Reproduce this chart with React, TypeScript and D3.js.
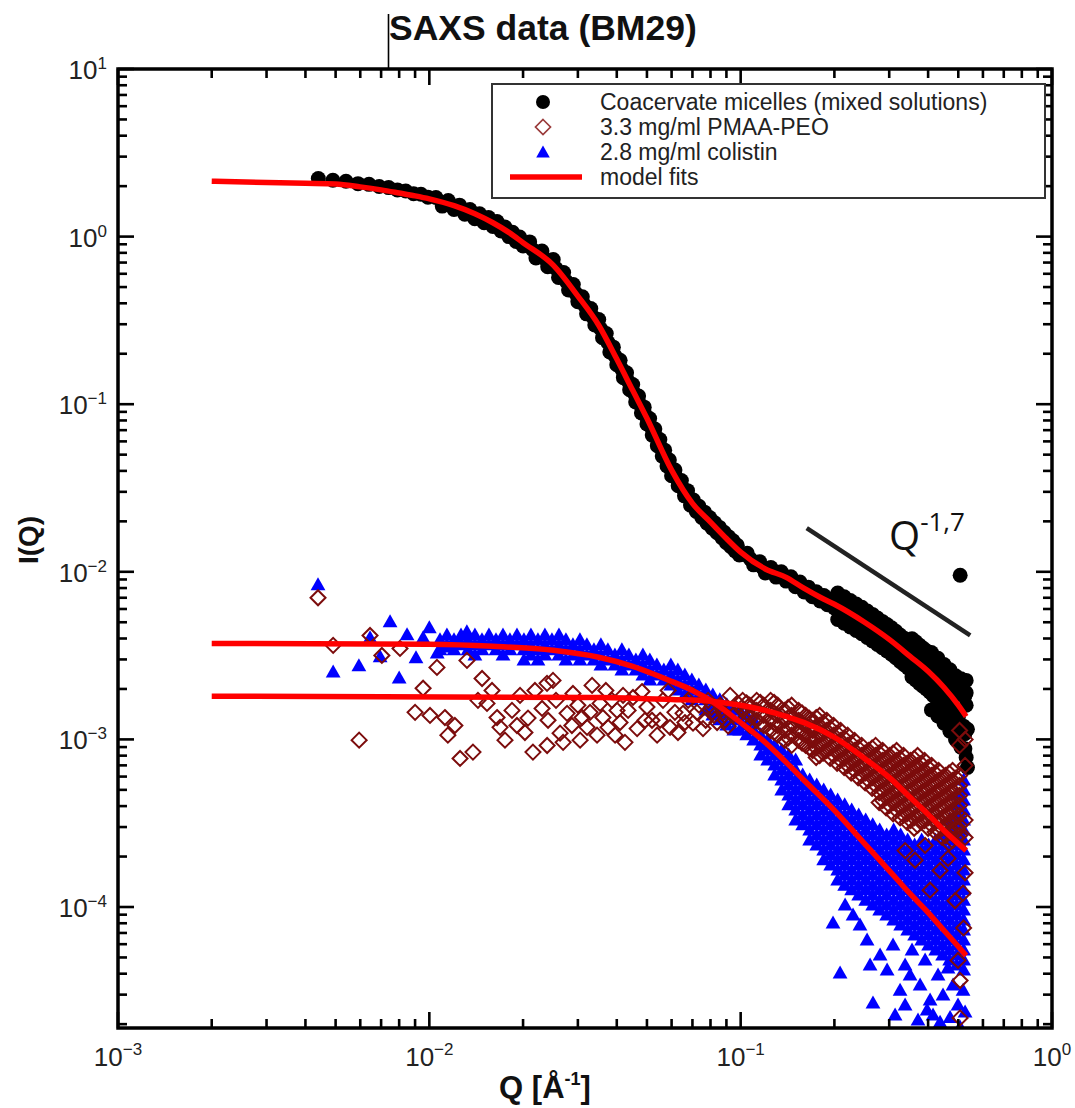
import React from "react";
import * as d3 from "d3";

// ---------------- DATA ----------------
const seriesNames = [
  "Coacervate micelles (mixed solutions)",
  "3.3 mg/ml PMAA-PEO",
  "2.8 mg/ml colistin",
  "model fits",
];

const xMajorTicks = [1e-3, 1e-2, 1e-1, 1e0];
const xMajorExp = ["−3", "−2", "−1", "0"];
const yMajorTicks = [1e1, 1e0, 1e-1, 1e-2, 1e-3, 1e-4];
const yMajorExp = ["1", "0", "−1", "−2", "−3", "−4"];
const minorMultipliers = [2, 3, 4, 5, 6, 7, 8, 9];
const xMinorDecades = [1e-3, 1e-2, 1e-1];
const yMinorDecades = [1e-5, 1e-4, 1e-3, 1e-2, 1e-1, 1e0];

// Coacervate micelles [Q, I]
const coacervate: [number, number][] = [
  [0.0044,2.22],[0.0049,2.17],[0.0054,2.14],[0.0059,2.07],[0.0064,2.05],[0.0069,1.99],[0.0074,1.96],[0.0079,1.9],[0.0084,1.87],[0.0089,1.8],[0.0094,1.79],[0.0099,1.72],
  [0.0105,1.71],[0.011,1.52],[0.0115,1.64],[0.012,1.45],[0.0125,1.54],[0.013,1.36],[0.0135,1.45],[0.014,1.28],[0.0145,1.37],[0.015,1.21],[0.0155,1.3],[0.016,1.15],[0.0165,1.23],[0.017,1.08],[0.0175,1.14],[0.018,1.0],[0.0185,1.06],[0.019,0.935],[0.0195,0.995],[0.02,0.878],
  [0.021,0.93],[0.022,0.745],[0.023,0.82],[0.024,0.662],[0.025,0.73],[0.026,0.571],[0.027,0.611],[0.028,0.48],[0.029,0.517],[0.03,0.409],[0.031,0.438],[0.032,0.346],[0.033,0.372],[0.034,0.297],[0.035,0.32],[0.036,0.249],[0.037,0.264],[0.038,0.205],[0.039,0.219],[0.04,0.172],[0.041,0.183],[0.042,0.144],[0.043,0.154],[0.044,0.122],[0.045,0.131],[0.046,0.103],[0.047,0.112],[0.048,0.0887],[0.049,0.096],[0.05,0.0762],[0.051,0.0821],[0.052,0.0654],[0.053,0.0711],[0.054,0.0566],[0.055,0.0615],[0.056,0.049],[0.057,0.0532],[0.058,0.0428],[0.059,0.0465],[0.06,0.0374],
  [0.0205,0.89],[0.0215,0.834],[0.0225,0.783],[0.0235,0.737],[0.0245,0.696],[0.0255,0.646],[0.0265,0.591],[0.0275,0.542],[0.0285,0.499],[0.0295,0.46],[0.0305,0.424],[0.0315,0.39],[0.0325,0.359],[0.0335,0.332],[0.0345,0.308],[0.0355,0.282],[0.0365,0.256],[0.0375,0.233],[0.0385,0.212],[0.0395,0.194],[0.0405,0.177],[0.0415,0.162],[0.0425,0.149],[0.0435,0.137],[0.0445,0.126],[0.0455,0.116],[0.0465,0.107],[0.0475,0.0996],[0.0485,0.0923],[0.0495,0.0856],[0.0505,0.0791],[0.0515,0.0733],[0.0525,0.0682],[0.0535,0.0635],[0.0545,0.059],[0.0555,0.0549],[0.0565,0.0511],[0.0575,0.0478],[0.0585,0.0447],[0.0595,0.0417],
  [0.0615,0.0405],[0.063,0.0326],[0.0645,0.035],[0.066,0.0284],[0.0675,0.0305],[0.069,0.025],[0.0705,0.0268],[0.072,0.0229],[0.0735,0.0246],[0.075,0.0211],[0.0765,0.0227],[0.078,0.0195],[0.0795,0.0211],[0.081,0.0182],[0.0825,0.0196],[0.084,0.0171],[0.0855,0.0184],[0.087,0.016],[0.0885,0.0172],[0.09,0.0149],[0.0915,0.0162],[0.093,0.0141],[0.0945,0.0153],[0.096,0.0133],[0.0975,0.0144],[0.099,0.0126],
  [0.06075,0.0389],[0.06225,0.0362],[0.06375,0.0337],[0.06525,0.0314],[0.06675,0.0295],[0.06825,0.0276],[0.06975,0.026],[0.07125,0.0248],[0.07275,0.0238],[0.07425,0.0228],[0.07575,0.022],[0.07725,0.0211],[0.07875,0.0203],
  [0.105,0.0129],[0.11,0.011],[0.115,0.0115],[0.12,0.00985],[0.125,0.0106],[0.13,0.0093],[0.135,0.01],[0.14,0.0088],[0.145,0.00935],[0.15,0.00815],[0.155,0.00868],[0.16,0.00757],[0.165,0.0081],[0.17,0.00711],[0.175,0.0076],[0.18,0.0067],[0.185,0.00722],[0.19,0.00637],[0.195,0.00688],[0.2,0.00608],
  [0.1025,0.0127],[0.1075,0.0119],[0.1125,0.0113],[0.1175,0.0106],[0.1225,0.0102],[0.1275,0.0099],[0.1325,0.0096],[0.1375,0.0094],[0.1425,0.0091],[0.1475,0.0087],[0.1525,0.0084],[0.1575,0.0081],[0.1625,0.0078],[0.1675,0.0076],[0.1725,0.0074],[0.1775,0.0071],[0.1825,0.007],[0.1875,0.0068],[0.1925,0.0066],[0.1975,0.0065],
  [0.21,0.00615],[0.22,0.0057],[0.23,0.00555],[0.24,0.00515],[0.25,0.0051],[0.26,0.00465],[0.27,0.00462],[0.28,0.0042],[0.29,0.00425],[0.3,0.0038],[0.31,0.00392],[0.32,0.00345],[0.33,0.00358],[0.34,0.00312],[0.35,0.0033],[0.36,0.00282],[0.37,0.00305],[0.38,0.00255],[0.39,0.00285],[0.4,0.00235],[0.41,0.00268],[0.42,0.0021],[0.43,0.00248],[0.44,0.00188],[0.45,0.00228],[0.46,0.0017],[0.47,0.00212],[0.48,0.00152],[0.49,0.00195],[0.5,0.00135],[0.51,0.00185],[0.52,0.0012],[0.53,0.0016],
  [0.205,0.00748],[0.215,0.0071],[0.225,0.00674],[0.235,0.00643],[0.245,0.00614],[0.255,0.00584],[0.265,0.00557],[0.275,0.0053],[0.285,0.00506],[0.295,0.00485],[0.305,0.00463],[0.315,0.00442],[0.325,0.0042],[0.335,0.00402],[0.345,0.00384],[0.355,0.00398],[0.365,0.00382],[0.375,0.00365],[0.385,0.00351],[0.395,0.00338],[0.405,0.00324],[0.415,0.00309],[0.425,0.00296],[0.435,0.00283],[0.445,0.0027],[0.455,0.00259],[0.465,0.00247],[0.475,0.00234],[0.485,0.00222],[0.495,0.00212],[0.505,0.00202],[0.515,0.00191],[0.525,0.00182],
  [0.205,0.00519],[0.215,0.00493],[0.225,0.00468],[0.235,0.00447],[0.245,0.00427],[0.255,0.00406],[0.265,0.00387],[0.275,0.00368],[0.285,0.00352],[0.295,0.00337],[0.305,0.00322],[0.315,0.00307],[0.325,0.00292],[0.335,0.00279],[0.345,0.00267],[0.355,0.00236],[0.365,0.00226],[0.375,0.00216],[0.385,0.00208],[0.395,0.002],[0.405,0.00192],[0.415,0.00183],[0.425,0.00176],[0.435,0.00168],[0.445,0.0016],[0.455,0.00153],[0.465,0.00146],[0.475,0.00139],[0.485,0.00132],[0.495,0.00126],[0.505,0.00119],[0.515,0.00113],[0.525,0.00108],
  [0.41,0.0033],[0.41,0.0015],[0.43,0.00305],[0.43,0.00138],[0.45,0.0028],[0.45,0.00125],[0.47,0.0026],[0.47,0.00112],[0.49,0.0024],[0.49,0.001],[0.51,0.0023],[0.51,0.0009],[0.53,0.00225],[0.53,0.00078],
  [0.525,0.00088],[0.535,0.00115],[0.535,0.00068],[0.53,0.0019],
  [0.507,0.00953],
];

// PMAA-PEO scattered points [Q, I]
const pmaaScatter: [number, number][] = [
  [0.00439,7.0e-3],[0.00491,3.64e-3],[0.00595,9.9e-4],[0.00645,4.17e-3],[0.00704,3.17e-3],[0.00805,3.49e-3],[0.009,1.45e-3],[0.00955,2.02e-3],[0.01005,1.39e-3],[0.01058,2.69e-3],[0.01122,1.35e-3],[0.01147,1.06e-3],[0.01208,1.21e-3],[0.01255,7.7e-4],[0.01321,2.96e-3],[0.01381,8.4e-4],[0.01477,2.31e-3],[0.01532,1.64e-3],[0.0165,1.35e-3],[0.01687,1.18e-3],[0.01843,1.49e-3],[0.01912,1.21e-3],[0.02028,1.1e-3],[0.02152,8.4e-4],[0.02184,1.96e-3],[0.02302,1.53e-3],[0.02388,2.16e-3],[0.02496,2.25e-3],[0.0263,1.09e-3],[0.0277,1.43e-3],[0.02893,1.88e-3],[0.03094,1.35e-3],[0.03211,1.18e-3],[0.03332,2.1e-3],[0.03535,1.64e-3],[0.0375,1.18e-3],[0.04008,1.49e-3],[0.0425,9.6e-4],[0.0451,1.78e-3],[0.05,1.56e-3],[0.05509,1.3e-3],[0.05932,1.18e-3],[0.0653,1.43e-3],[0.0703,1.25e-3],
  [0.01433,1.71e-3],[0.0159,1.96e-3],[0.0175,9.9e-4],[0.01956,1.83e-3],[0.02075,1.34e-3],[0.02406,1.3e-3],[0.02552,1.71e-3],[0.0269,9.6e-4],[0.0287,1.21e-3],[0.03,1.6e-3],[0.03283,1.45e-3],[0.03457,1.06e-3],[0.0361,1.35e-3],[0.0386,1.71e-3],[0.04098,1.26e-3],[0.0435,1.49e-3],[0.0465,1.16e-3],[0.0482,1.93e-3],[0.0519,1.3e-3],[0.0539,1.06e-3],[0.0563,1.71e-3],[0.0615,1.45e-3],[0.0629,1.1e-3],[0.0678,1.71e-3],[0.0724,1.45e-3],[0.0757,1.16e-3],[0.0786,1.71e-3],[0.0821,1.39e-3],[0.0859,1.6e-3],[0.0891,1.3e-3],[0.0925,1.83e-3],[0.0966,1.45e-3],
  [0.0369,1.96e-3],[0.0395,1.06e-3],[0.0419,1.83e-3],[0.0493,1.3e-3],[0.0585,1.96e-3],[0.0662,1.26e-3],[0.0703,1.83e-3],[0.084,1.26e-3],[0.0945,1.39e-3],[0.0305,9.9e-4],[0.0239,9.2e-4],
  [0.0735,1.6e-3],[0.0772,1.3e-3],[0.0805,1.55e-3],[0.0878,1.45e-3],[0.0912,1.2e-3],[0.0985,1.62e-3],
];

// PMAA-PEO dense high-Q region: [Q, I values]
const pmaaBand: [number, number[]][] = [
  [0.1015,[1.71e-3,1.49e-3]],
  [0.1069,[1.6e-3,1.39e-3,1.21e-3]],
  [0.1126,[1.71e-3,1.49e-3,1.3e-3]],
  [0.1186,[1.6e-3,1.39e-3,1.21e-3]],
  [0.1248,[1.71e-3,1.49e-3,1.3e-3,1.13e-3]],
  [0.1315,[1.6e-3,1.39e-3,1.21e-3,1.06e-3]],
  [0.1385,[1.49e-3,1.3e-3,1.13e-3,9.86e-4]],
  [0.1458,[1.6e-3,1.39e-3,1.21e-3,1.06e-3,9.21e-4]],
  [0.1535,[1.49e-3,1.3e-3,1.13e-3,9.86e-4]],
  [0.1617,[1.39e-3,1.21e-3,1.06e-3,9.21e-4]],
  [0.1703,[1.3e-3,1.13e-3,9.86e-4,8.59e-4]],
  [0.1794,[1.39e-3,1.21e-3,1.06e-3,9.21e-4,8.02e-4]],
  [0.1889,[1.3e-3,1.13e-3,9.86e-4,8.59e-4]],
  [0.1989,[1.21e-3,1.06e-3,9.21e-4,8.02e-4]],
  [0.2095,[1.13e-3,9.86e-4,8.59e-4,7.49e-4]],
  [0.2206,[1.06e-3,9.21e-4,8.02e-4,6.99e-4]],
  [0.2323,[9.86e-4,8.59e-4,7.49e-4,6.53e-4]],
  [0.2447,[9.21e-4,8.02e-4,6.99e-4,6.1e-4]],
  [0.2577,[8.59e-4,7.49e-4,6.53e-4,5.69e-4]],
  [0.2713,[9.21e-4,8.02e-4,6.99e-4,6.1e-4,5.31e-4]],
  [0.2858,[8.59e-4,7.49e-4,6.53e-4,5.69e-4,4.96e-4,4.32e-4]],
  [0.3009,[8.02e-4,6.99e-4,6.1e-4,5.31e-4,4.63e-4,4.04e-4]],
  [0.3169,[8.59e-4,7.49e-4,6.53e-4,5.69e-4,4.96e-4,4.32e-4,3.77e-4]],
  [0.3337,[8.02e-4,6.99e-4,6.1e-4,5.31e-4,4.63e-4,4.04e-4,3.52e-4]],
  [0.3515,[7.49e-4,6.53e-4,5.69e-4,4.96e-4,4.32e-4,3.77e-4,3.28e-4]],
  [0.3701,[8.02e-4,6.99e-4,6.1e-4,5.31e-4,4.63e-4,4.04e-4,3.52e-4,3.07e-4]],
  [0.3898,[7.49e-4,6.53e-4,5.69e-4,4.96e-4,4.32e-4,3.77e-4,3.28e-4]],
  [0.4105,[6.99e-4,6.1e-4,5.31e-4,4.63e-4,4.04e-4,3.52e-4,3.07e-4]],
  [0.4323,[6.53e-4,5.69e-4,4.96e-4,4.32e-4,3.77e-4,3.28e-4,2.86e-4]],
  [0.4552,[6.1e-4,5.31e-4,4.63e-4,4.04e-4,3.52e-4,3.07e-4,2.67e-4]],
  [0.4794,[6.53e-4,5.69e-4,4.96e-4,4.32e-4,3.77e-4,3.28e-4,2.86e-4,2.49e-4]],
  [0.5049,[1.13e-3,9.21e-4,6.1e-4,5.31e-4,4.63e-4,4.04e-4,3.52e-4,3.07e-4,2.67e-4]],
  [0.5258,[1.0e-3,7.0e-4,3.3e-4,2.6e-4]],
  [0.1045,[1.65e-3,1.44e-3,1.27e-3]],
  [0.1157,[1.66e-3,1.44e-3,1.25e-3]],
  [0.1281,[1.66e-3,1.44e-3,1.25e-3,1.1e-3]],
  [0.1421,[1.55e-3,1.35e-3,1.17e-3,1.02e-3]],
  [0.1575,[1.44e-3,1.25e-3,1.09e-3,9.5e-4]],
  [0.166,[1.34e-3,1.17e-3,1.02e-3,8.9e-4]],
  [0.1748,[1.35e-3,1.17e-3,1.02e-3,8.9e-4,7.8e-4]],
  [0.1841,[1.26e-3,1.09e-3,9.5e-4,8.3e-4]],
  [0.1938,[1.17e-3,1.02e-3,8.9e-4,7.7e-4]],
  [0.2041,[1.09e-3,9.5e-4,8.3e-4,7.2e-4]],
  [0.215,[1.02e-3,8.9e-4,7.7e-4,6.8e-4]],
  [0.2264,[9.5e-4,8.3e-4,7.2e-4,6.3e-4]],
  [0.2384,[8.9e-4,7.7e-4,6.8e-4,5.9e-4]],
  [0.2511,[8.3e-4,7.2e-4,6.3e-4,5.5e-4]],
  [0.2644,[8.9e-4,7.7e-4,6.8e-4,5.9e-4,5.1e-4]],
  [0.2785,[8.3e-4,7.2e-4,6.3e-4,5.5e-4,4.8e-4,4.2e-4]],
  [0.2932,[7.7e-4,6.8e-4,5.9e-4,5.1e-4,4.5e-4,3.9e-4]],
  [0.3088,[8.3e-4,7.2e-4,6.3e-4,5.5e-4,4.8e-4,4.2e-4,3.6e-4]],
  [0.3252,[7.7e-4,6.8e-4,5.9e-4,5.1e-4,4.5e-4,3.9e-4,3.4e-4]],
  [0.3425,[7.2e-4,6.3e-4,5.5e-4,4.8e-4,4.2e-4,3.6e-4,3.2e-4]],
  [0.3607,[7.7e-4,6.8e-4,5.9e-4,5.1e-4,4.5e-4,3.9e-4,3.4e-4,2.95e-4]],
  [0.3799,[7.2e-4,6.3e-4,5.5e-4,4.8e-4,4.2e-4,3.6e-4,3.2e-4]],
  [0.4,[6.8e-4,5.9e-4,5.1e-4,4.5e-4,3.9e-4,3.4e-4,2.95e-4]],
  [0.4212,[6.3e-4,5.5e-4,4.8e-4,4.2e-4,3.6e-4,3.2e-4,2.8e-4]],
  [0.4436,[5.9e-4,5.1e-4,4.5e-4,3.9e-4,3.4e-4,2.95e-4,2.6e-4]],
  [0.4671,[6.3e-4,5.5e-4,4.8e-4,4.2e-4,3.6e-4,3.2e-4,2.8e-4,2.4e-4]],
  [0.4919,[5.9e-4,5.1e-4,4.5e-4,3.9e-4,3.4e-4,2.95e-4,2.6e-4]],
];

const pmaaOutliers: [number, number][] = [
  [0.518,1.21e-4],[0.499,4.8e-5],[0.5067,3.64e-5],[0.5067,2.18e-5],[0.3374,2.17e-4],[0.3632,1.9e-4],[0.3912,2.33e-4],[0.437,1.65e-4],[0.4635,1.95e-4],[0.4883,1.09e-4],[0.4059,1.26e-4],[0.5258,1.6e-4],[0.52,7.5e-5],
];

// Colistin [Q, I]
const colistinLowQ: [number, number][] = [
  [0.00439,8.3e-3],[0.00491,2.51e-3],[0.00594,2.73e-3],[0.00645,4.01e-3],[0.00695,3.09e-3],[0.00748,5.0e-3],[0.008,2.31e-3],[0.00848,4.18e-3],[0.00906,3.05e-3],[0.00955,4.01e-3],[0.01,4.6e-3],[0.0106,3.26e-3],[0.0114,3.54e-3],[0.0126,3.74e-3],[0.0132,4.36e-3],
];

const colistinBand: [number, number[]][] = [
  [0.01082,[3.9e-3,3.4e-3]],[0.01139,[4.17e-3,3.64e-3]],[0.012,[3.9e-3,3.4e-3]],[0.01264,[4.17e-3,3.64e-3]],[0.01331,[3.9e-3,3.4e-3]],[0.01401,[4.17e-3,3.64e-3,3.17e-3]],[0.01476,[3.9e-3,3.4e-3]],[0.01554,[4.17e-3,3.64e-3]],[0.01637,[3.9e-3,3.4e-3]],[0.01724,[4.17e-3,3.64e-3,3.17e-3]],[0.01815,[3.9e-3,3.4e-3]],[0.01912,[4.17e-3,3.64e-3]],[0.02013,[3.9e-3,3.4e-3,2.96e-3]],[0.0212,[4.17e-3,3.64e-3,3.17e-3]],[0.02233,[3.9e-3,3.4e-3,2.96e-3]],[0.02351,[4.17e-3,3.64e-3,3.17e-3]],[0.02476,[3.9e-3,3.4e-3]],[0.02608,[4.17e-3,3.64e-3,3.17e-3]],[0.02746,[3.9e-3,3.4e-3,2.96e-3]],[0.02892,[3.64e-3,3.17e-3]],[0.03046,[3.9e-3,3.4e-3,2.96e-3]],[0.03207,[3.64e-3,3.17e-3]],[0.03378,[3.4e-3,2.96e-3]],[0.03557,[3.64e-3,3.17e-3,2.76e-3]],[0.03746,[3.4e-3,2.96e-3]],[0.03945,[3.17e-3,2.76e-3]],[0.04154,[3.4e-3,2.96e-3,2.58e-3]],[0.04375,[3.17e-3,2.76e-3]],[0.04607,[2.96e-3,2.58e-3]],[0.04852,[3.17e-3,2.76e-3,2.41e-3]],[0.05109,[2.96e-3,2.58e-3,2.25e-3]],[0.05381,[2.76e-3,2.41e-3]],[0.05666,[2.58e-3,2.25e-3]],[0.05967,[2.76e-3,2.41e-3,2.1e-3]],[0.06284,[2.58e-3,2.25e-3,1.96e-3]],[0.06617,[2.41e-3,2.1e-3,1.83e-3]],[0.06969,[2.25e-3,1.96e-3,1.71e-3]],[0.07339,[2.1e-3,1.83e-3]],[0.07728,[1.96e-3,1.71e-3,1.49e-3]],[0.08138,[1.83e-3,1.6e-3,1.39e-3]],[0.08571,[1.71e-3,1.49e-3,1.3e-3]],[0.09026,[1.6e-3,1.39e-3,1.21e-3]],[0.09505,[1.49e-3,1.3e-3,1.13e-3]],
];

const colistinHighQ: [number, number[]][] = [
  [0.0993,[1.49e-3,1.3e-3,1.13e-3]],
  [0.1046,[1.39e-3,1.21e-3,1.06e-3]],
  [0.1101,[1.3e-3,1.13e-3,9.86e-4]],
  [0.116,[1.06e-3,9.21e-4,8.02e-4]],
  [0.1221,[9.86e-4,8.59e-4,7.49e-4]],
  [0.1286,[9.21e-4,8.02e-4,6.99e-4,6.1e-4]],
  [0.1355,[8.59e-4,7.49e-4,6.53e-4,5.69e-4,4.96e-4]],
  [0.1427,[8.02e-4,6.99e-4,6.1e-4,5.31e-4,4.63e-4,4.04e-4]],
  [0.1502,[7.49e-4,6.53e-4,5.69e-4,4.96e-4,4.32e-4,3.77e-4,3.28e-4]],
  [0.1582,[6.1e-4,5.31e-4,4.63e-4,4.04e-4,3.52e-4,3.07e-4]],
  [0.1666,[5.69e-4,4.96e-4,4.32e-4,3.77e-4,3.28e-4,2.86e-4,2.49e-4]],
  [0.1755,[5.31e-4,4.63e-4,4.04e-4,3.52e-4,3.07e-4,2.67e-4,2.33e-4]],
  [0.1848,[4.96e-4,4.32e-4,3.77e-4,3.28e-4,2.86e-4,2.49e-4,2.17e-4,1.9e-4]],
  [0.1946,[4.63e-4,4.04e-4,3.52e-4,3.07e-4,2.67e-4,2.33e-4,2.03e-4,1.77e-4]],
  [0.2049,[4.32e-4,3.77e-4,3.28e-4,2.86e-4,2.49e-4,2.17e-4,1.9e-4,1.65e-4,1.44e-4]],
  [0.2158,[4.04e-4,3.52e-4,3.07e-4,2.67e-4,2.33e-4,2.03e-4,1.77e-4,1.54e-4,1.34e-4]],
  [0.2273,[3.77e-4,3.28e-4,2.86e-4,2.49e-4,2.17e-4,1.9e-4,1.65e-4,1.44e-4,1.26e-4]],
  [0.2394,[3.52e-4,3.07e-4,2.67e-4,2.33e-4,2.03e-4,1.77e-4,1.54e-4,1.34e-4,1.17e-4]],
  [0.2521,[3.28e-4,2.86e-4,2.49e-4,2.17e-4,1.9e-4,1.65e-4,1.44e-4,1.26e-4,1.09e-4]],
  [0.2655,[3.07e-4,2.67e-4,2.33e-4,2.03e-4,1.77e-4,1.54e-4,1.34e-4,1.17e-4,1.02e-4]],
  [0.2796,[2.86e-4,2.49e-4,2.17e-4,1.9e-4,1.65e-4,1.44e-4,1.26e-4,1.09e-4,9.53e-5]],
  [0.2944,[2.67e-4,2.33e-4,2.03e-4,1.77e-4,1.54e-4,1.34e-4,1.17e-4,1.02e-4,8.89e-5]],
  [0.3101,[2.86e-4,2.49e-4,2.17e-4,1.9e-4,1.65e-4,1.44e-4,1.26e-4,1.09e-4,9.53e-5,8.3e-5]],
  [0.3265,[2.67e-4,2.33e-4,2.03e-4,1.77e-4,1.54e-4,1.34e-4,1.17e-4,1.02e-4,8.89e-5,7.75e-5]],
  [0.3439,[2.49e-4,2.17e-4,1.9e-4,1.65e-4,1.44e-4,1.26e-4,1.09e-4,9.53e-5,8.3e-5,7.24e-5]],
  [0.3621,[2.33e-4,2.03e-4,1.77e-4,1.54e-4,1.34e-4,1.17e-4,1.02e-4,8.89e-5,7.75e-5,6.76e-5]],
  [0.3814,[2.49e-4,2.17e-4,1.9e-4,1.65e-4,1.44e-4,1.26e-4,1.09e-4,9.53e-5,8.3e-5,7.24e-5,6.31e-5]],
  [0.4016,[2.33e-4,2.03e-4,1.77e-4,1.54e-4,1.34e-4,1.17e-4,1.02e-4,8.89e-5,7.75e-5,6.76e-5,5.89e-5]],
  [0.423,[2.49e-4,2.17e-4,1.9e-4,1.65e-4,1.44e-4,1.26e-4,1.09e-4,9.53e-5,8.3e-5,7.24e-5,6.31e-5,5.5e-5]],
  [0.4454,[2.67e-4,2.33e-4,2.03e-4,1.77e-4,1.54e-4,1.34e-4,1.17e-4,1.02e-4,8.89e-5,7.75e-5,6.76e-5,5.89e-5,5.13e-5]],
  [0.4691,[3.28e-4,2.86e-4,2.49e-4,2.17e-4,1.9e-4,1.65e-4,1.44e-4,1.26e-4,1.09e-4,9.53e-5,8.3e-5,7.24e-5,6.31e-5,5.5e-5,4.8e-5]],
  [0.494,[4.63e-4,4.04e-4,3.52e-4,3.07e-4,2.67e-4,2.33e-4,2.03e-4,1.77e-4,1.54e-4,1.34e-4,1.17e-4,1.02e-4,8.89e-5,7.75e-5,6.76e-5,5.89e-5,5.13e-5,4.48e-5]],
  [0.5202,[5.69e-4,4.96e-4,4.32e-4,3.77e-4,3.28e-4,2.86e-4,2.49e-4,2.17e-4,1.9e-4,1.65e-4,1.44e-4,1.26e-4,1.09e-4,9.53e-5,8.3e-5,7.24e-5,6.31e-5,5.5e-5,4.8e-5,4.18e-5]],
];

const colistinOutliers: [number, number][] = [
  [0.198,7.97e-5],[0.2086,4.01e-5],[0.2296,8.89e-5],[0.2547,6.31e-5],[0.2661,2.66e-5],[0.2804,5.13e-5],[0.2954,4.18e-5],[0.3086,5.89e-5],[0.3251,3.17e-5],[0.3374,4.48e-5],[0.3552,5.5e-5],[0.3712,2.1e-5],[0.377,3.4e-5],[0.3912,4.8e-5],[0.4059,2.77e-5],[0.4149,2.25e-5],[0.4305,3.9e-5],[0.4466,2.96e-5],[0.4635,4.29e-5],[0.4706,2.18e-5],[0.481,3.4e-5],[0.499,2.58e-5],[0.5067,1.91e-5],[0.518,3.17e-5],[0.5258,2.35e-5],[0.2165,1.02e-4],[0.2417,7.75e-5],[0.437,2.04e-5],[0.397,2.41e-5],[0.35,3.9e-5],[0.3133,2.25e-5],[0.2604,4.48e-5],[0.3374,2.58e-5],
];

// Model fits [Q, I]
const fitCoacervate: [number, number][] = [
  [0.002,2.14],[0.004,2.08],[0.005,2.06],[0.006,1.98],[0.007,1.9],[0.008,1.82],[0.009,1.75],[0.01,1.68],[0.012,1.53],[0.014,1.37],[0.016,1.21],[0.018,1.06],[0.02,0.92],[0.025,0.676],[0.03,0.442],[0.035,0.296],[0.04,0.186],[0.045,0.121],[0.05,0.0824],[0.06,0.0404],[0.07,0.0256],[0.08,0.0198],[0.09,0.0158],[0.1,0.0131],[0.12,0.0104],[0.14,0.00927],[0.16,0.00796],[0.18,0.00705],[0.2,0.0064],[0.25,0.005],[0.3,0.00395],[0.35,0.00313],[0.4,0.00255],[0.45,0.00204],[0.5,0.0016],[0.53,0.00137],
];
const fitPmaa: [number, number][] = [
  [0.002,1.81e-3],[0.035,1.78e-3],[0.06,1.73e-3],[0.08,1.69e-3],[0.1,1.6e-3],[0.12,1.49e-3],[0.14,1.37e-3],[0.16,1.26e-3],[0.2,1.03e-3],[0.25,7.7e-4],[0.3,5.93e-4],[0.35,4.51e-4],[0.4,3.57e-4],[0.45,2.86e-4],[0.5,2.39e-4],[0.53,2.17e-4],
];
const fitColistin: [number, number][] = [
  [0.002,3.74e-3],[0.01,3.69e-3],[0.016,3.59e-3],[0.025,3.4e-3],[0.035,3.09e-3],[0.045,2.73e-3],[0.06,2.22e-3],[0.07,1.96e-3],[0.08,1.71e-3],[0.1,1.26e-3],[0.12,9.59e-4],[0.14,7.29e-4],[0.16,5.69e-4],[0.2,3.77e-4],[0.25,2.39e-4],[0.3,1.65e-4],[0.35,1.2e-4],[0.4,9.27e-5],[0.45,7.24e-5],[0.5,5.81e-5],[0.53,5.13e-5],
];

// Power-law guide line (Q^-1.7)
const slopeLineQ = [0.163, 0.546];
const slopeLineI = [0.0182, 0.00418];

// ---------------- CHART ----------------
const FONT = "'Liberation Sans', Arial, Helvetica, sans-serif";
const W = 1075;
const H = 1108;
const PL = 118, PR = 1052, PT = 69, PB = 1028;

const BLUE = "#0000ff";
const BROWN = "#7c0c0c";
const RED = "#ff0000";

function flatten(cols: [number, number[]][]): [number, number][] {
  const out: [number, number][] = [];
  cols.forEach(([q, is]) => is.forEach((i) => out.push([q, i])));
  return out;
}

const triPath = "M0,-8L7.4,5L-7.4,5Z";
const diaPath = "M0,-7.5L7.5,0L0,7.5L-7.5,0Z";

export default function App() {
  const x = d3.scaleLog().domain([1e-3, 1]).range([PL, PR]);
  const y = d3.scaleLog().domain([1.897e-5, 10]).range([PB, PT]);

  const blueAll = [...colistinLowQ, ...flatten(colistinBand), ...flatten(colistinHighQ), ...colistinOutliers];
  const brownAll = [...pmaaScatter, ...flatten(pmaaBand), ...pmaaOutliers];

  const line = d3
    .line<[number, number]>()
    .x((d) => x(d[0]))
    .y((d) => y(d[1]))
    .curve(d3.curveMonotoneX);

  const xMinor: number[] = [];
  xMinorDecades.forEach((d) => minorMultipliers.forEach((m) => xMinor.push(d * m)));
  const yMinor: number[] = [];
  yMinorDecades.forEach((d) =>
    minorMultipliers.forEach((m) => {
      const v = d * m;
      if (v >= 1.897e-5 && v <= 10) yMinor.push(v);
    })
  );

  const tickColor = "#000";
  const tw = 2.6;

  return (
    <svg
      width={W}
      height={H}
      style={{ position: "absolute", left: 0, top: 0, background: "#fff" }}
      fontFamily={FONT}
    >
      <rect x={0} y={0} width={W} height={H} fill="#fff" />
      <defs>
        <clipPath id="plotClip">
          <rect x={PL} y={PT} width={PR - PL} height={PB - PT} />
        </clipPath>
      </defs>

      {/* title */}
      <line x1={388.5} y1={14} x2={388.5} y2={PT} stroke="#000" strokeWidth={1.6} />
      <text x={389} y={40} fontSize={35.5} fontWeight="bold" fill="#111">
        SAXS data (BM29)
      </text>

      <g clipPath="url(#plotClip)">
        {coacervate.map((d, i) => (
          <circle key={"c" + i} cx={x(d[0])} cy={y(d[1])} r={7.5} fill="#000" />
        ))}
        {blueAll.map((d, i) => (
          <path key={"b" + i} d={triPath} transform={`translate(${x(d[0])},${y(d[1])})`} fill={BLUE} />
        ))}
        {brownAll.map((d, i) => (
          <path
            key={"p" + i}
            d={diaPath}
            transform={`translate(${x(d[0])},${y(d[1])})`}
            fill="none"
            stroke={BROWN}
            strokeWidth={2}
          />
        ))}
        <path d={line(fitCoacervate) || ""} fill="none" stroke={RED} strokeWidth={5.5} />
        <path d={line(fitColistin) || ""} fill="none" stroke={RED} strokeWidth={5.5} />
        <path d={line(fitPmaa) || ""} fill="none" stroke={RED} strokeWidth={5.5} />
      </g>

      {/* slope guide and annotation */}
      <line
        x1={x(slopeLineQ[0])}
        y1={y(slopeLineI[0])}
        x2={x(slopeLineQ[1])}
        y2={y(slopeLineI[1])}
        stroke="#222"
        strokeWidth={4.5}
      />
      <text x={889} y={550} fontFamily="'Open Sans', sans-serif" fontSize={40} fill="#111">
        Q<tspan dy={-19} fontSize={26}>-1,7</tspan>
      </text>

      {/* frame */}
      <rect x={PL} y={PT} width={PR - PL} height={PB - PT} fill="none" stroke="#000" strokeWidth={3.5} />

      {/* x ticks */}
      {xMajorTicks.map((v, i) => (
        <g key={"xM" + i}>
          <line x1={x(v)} x2={x(v)} y1={PB} y2={PB - 16} stroke={tickColor} strokeWidth={tw} />
          <line x1={x(v)} x2={x(v)} y1={PT} y2={PT + 16} stroke={tickColor} strokeWidth={tw} />
          <text x={x(v)} y={1066} textAnchor="middle" fontSize={26} fill="#222">
            10<tspan dy={-11} fontSize={17}>{xMajorExp[i]}</tspan>
          </text>
        </g>
      ))}
      {xMinor.map((v, i) => (
        <g key={"xm" + i}>
          <line x1={x(v)} x2={x(v)} y1={PB} y2={PB - 9} stroke={tickColor} strokeWidth={tw} />
          <line x1={x(v)} x2={x(v)} y1={PT} y2={PT + 9} stroke={tickColor} strokeWidth={tw} />
        </g>
      ))}

      {/* y ticks */}
      {yMajorTicks.map((v, i) => (
        <g key={"yM" + i}>
          <line x1={PL} x2={PL + 16} y1={y(v)} y2={y(v)} stroke={tickColor} strokeWidth={tw} />
          <line x1={PR} x2={PR - 16} y1={y(v)} y2={y(v)} stroke={tickColor} strokeWidth={tw} />
          <text x={107} y={y(v) + 10} textAnchor="end" fontSize={26} fill="#222">
            10<tspan dy={-10} fontSize={17}>{yMajorExp[i]}</tspan>
          </text>
        </g>
      ))}
      {yMinor.map((v, i) => (
        <g key={"ym" + i}>
          <line x1={PL} x2={PL + 9} y1={y(v)} y2={y(v)} stroke={tickColor} strokeWidth={tw} />
          <line x1={PR} x2={PR - 9} y1={y(v)} y2={y(v)} stroke={tickColor} strokeWidth={tw} />
        </g>
      ))}

      {/* axis titles */}
      <text transform="translate(38,540) rotate(-90)" textAnchor="middle" fontSize={28} fontWeight="bold" fill="#111">
        I(Q)
      </text>
      <text x={545} y={1098} textAnchor="middle" fontSize={31} fontWeight="bold" fill="#111">
        Q [Å<tspan dy={-13} fontSize={18}>-1</tspan>
        <tspan dy={13}>]</tspan>
      </text>

      {/* legend */}
      <g>
        <rect x={492} y={84} width={553} height={114} fill="#fff" stroke="#333" strokeWidth={2} />
        <circle cx={543} cy={102} r={7} fill="#000" />
        <path d={diaPath} transform="translate(543,127)" fill="none" stroke="#9a3a3a" strokeWidth={1.7} />
        <path d="M0,-7.5L6.8,4.5L-6.8,4.5Z" transform="translate(543,153)" fill={BLUE} />
        <line x1={510} x2={582} y1={177} y2={177} stroke={RED} strokeWidth={5.5} />
        {seriesNames.map((s, i) => (
          <text key={"lg" + i} x={600} y={110 + i * 25} fontSize={23} fill="#222">
            {s}
          </text>
        ))}
      </g>
    </svg>
  );
}
